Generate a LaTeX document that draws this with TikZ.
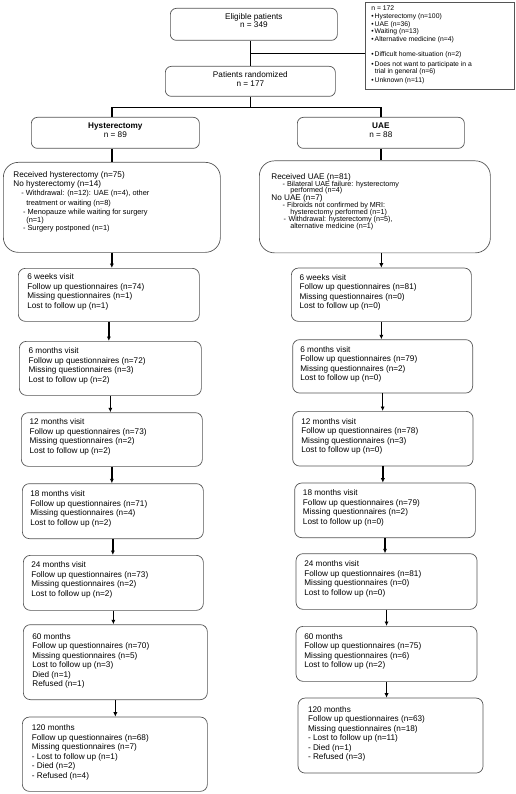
\documentclass[tikz,border=0pt]{standalone}
\usepackage{fontspec}
\setmainfont{Liberation Sans}
\usetikzlibrary{arrows.meta,calc}
\definecolor{boxgray}{RGB}{85,85,85}
% #1 style, #2 name, #3 L, #4 T, #5 R, #6 B, #7 padx, #8 top pad, #9 text
\newcommand{\mkbox}[9]{%
  \node[#1, inner xsep=#7pt, inner ysep=0pt, anchor=north west] (#2) at (#3,#4)
  {\begin{minipage}[c][\dimexpr #6pt-#4pt\relax][t]{\dimexpr #5pt-#3pt-#7pt-#7pt\relax}%
   \lineskiplimit=-100pt\raggedright\vspace*{#8pt}\leavevmode\rule{0pt}{7pt}#9\end{minipage}};}
\newcommand{\subf}{\fontsize{7.4}{9}\selectfont}
\newcommand{\subu}{\fontsize{7.2}{7}\selectfont}
\newcommand{\bul}{•\hspace{1pt}}
\begin{document}
\begin{tikzpicture}[x=1pt,y=-1pt,
  bx/.style={draw=boxgray, line width=0.7pt, rounded corners=6pt, font=\fontsize{8.2}{9.5}\selectfont},
  vis/.style={bx, rounded corners=7pt},
  big/.style={bx, rounded corners=15pt},
  sq/.style={bx, sharp corners},
  conn/.style={line width=1.3pt, black},
  arr/.style={conn, -{Latex[length=4.5pt,width=4.2pt]}}]
\useasboundingbox (0,0) rectangle (515,794);

% top
\mkbox{bx}{E}{170}{8}{337}{40}{0}{4.5}{\centering Eligible patients\\[-1.5pt]n = 349}
\mkbox{bx}{R}{165}{66}{335}{96}{0}{4.3}{\centering Patients randomized\\[-1.1pt]n = 177}
\mkbox{sq}{X}{364.5}{2.5}{514}{89.5}{6.5}{0.2}{\fontsize{6.8}{7.6}\selectfont n = 172\\[0.8pt]
\bul Hysterectomy (n=100)\\
\bul UAE (n=36)\\[-0.2pt]
\bul Waiting (n=13)\\
\bul Alternative medicine (n=4)\\[7.4pt]
\bul Difficult home-situation (n=2)\\[2.4pt]
\bul Does not want to participate in a\\[-0.2pt]
\hspace*{3.4pt}trial in general (n=6)\\[1.7pt]
\bul Unknown (n=11)}

\mkbox{bx}{H}{31}{117}{199}{148}{0}{4.5}{\centering\textbf{Hysterectomy}\\[-0.7pt]n = 89}
\mkbox{bx}{U}{297}{117}{464}{148}{0}{4.5}{\centering\textbf{UAE}\\[-0.7pt]n = 88}

\mkbox{big}{RH}{3}{162}{220}{252}{10}{8}{\fontsize{8.2}{9}\selectfont Received hysterectomy (n=75)\\[-0.3pt]
No hysterectomy (n=14)\\[0.3pt]
{\subf\hspace*{8pt}- Withdrawal: (n=12): UAE (n=4), other}\\[1pt]
{\subf\hspace*{13pt}treatment or waiting (n=8)}\\[0.4pt]
{\subf\hspace*{9.7pt}- Menopauze while waiting for surgery}\\[-1.7pt]
{\subf\hspace*{13pt}(n=1)}\\[-0.7pt]
{\subf\hspace*{9.7pt}- Surgery postponed (n=1)}}

\mkbox{big}{RU}{259}{160.5}{490}{252.5}{12}{11.2}{\fontsize{8.2}{7}\selectfont Received UAE (n=81)\\[0.2pt]
{\subu\hspace*{11.3pt}- Bilateral UAE failure: hysterectomy}\\[-1pt]
{\subu\hspace*{19pt}performed (n=4)}\\[0.8pt]
No UAE (n=7)\\[0.9pt]
{\subu\hspace*{11.3pt}- Fibroids not confirmed by MRI:}\\[-0.3pt]
{\subu\hspace*{19pt}hysterectomy performed (n=1)}\\[0.3pt]
{\subu\hspace*{12.3pt}-\hspace{2.5pt}Withdrawal: hysterectomy (n=5),}\\[-0.3pt]
{\subu\hspace*{19pt}alternative medicine (n=1)}}

% left column
\mkbox{vis}{L1}{18}{268}{199}{321}{9}{4.5}{6 weeks visit\\Follow up questionnaires (n=74)\\Missing questionnaires (n=1)\\Lost to follow up (n=1)}
\mkbox{vis}{L2}{19}{341}{201}{395}{9.3}{5.5}{6 months visit\\Follow up questionnaires (n=72)\\Missing questionnaires (n=3)\\Lost to follow up (n=2)}
\mkbox{vis}{L3}{21}{412.3}{202}{466}{8.3}{5.2}{12 months visit\\Follow up questionnaires (n=73)\\Missing questionnaires (n=2)\\Lost to follow up (n=2)}
\mkbox{vis}{L4}{22}{483.3}{203}{538.3}{8}{6}{18 months visit\\Follow up questionnaires (n=71)\\Missing questionnaires (n=4)\\Lost to follow up (n=2)}
\mkbox{vis}{L5}{23}{555}{203}{610}{8}{5.3}{24 months visit\\Follow up questionnaires (n=73)\\Missing questionnaires (n=2)\\Lost to follow up (n=2)}
\mkbox{vis}{L6}{23}{624.3}{207}{699.3}{9}{7.7}{60 months\\Follow up questionnaires (n=70)\\Missing questionnaires (n=5)\\Lost to follow up (n=3)\\Died (n=1)\\Refused (n=1)}
\mkbox{vis}{L7}{22}{716.7}{207}{791}{9.5}{6.6}{120 months\\Follow up questionnaires (n=68)\\Missing questionnaires (n=7)\\- Lost to follow up (n=1)\\- Died (n=2)\\- Refused (n=4)}

% right column
\mkbox{vis}{R1}{291}{267.7}{471}{321}{8.3}{5}{6 weeks visit\\Follow up questionnaires (n=81)\\Missing questionnaires (n=0)\\Lost to follow up (n=0)}
\mkbox{vis}{R2}{292.3}{339.3}{472.3}{392.7}{7.7}{5.7}{6 months visit\\Follow up questionnaires (n=79)\\Missing questionnaires (n=2)\\Lost to follow up (n=0)}
\mkbox{vis}{R3}{292.3}{411}{472.7}{465.7}{8.7}{5.7}{12 months visit\\Follow up questionnaires (n=78)\\Missing questionnaires (n=3)\\Lost to follow up (n=0)}
\mkbox{vis}{R4}{294.3}{482.7}{475}{537.3}{8.3}{5.6}{18 months visit\\Follow up questionnaires (n=79)\\Missing questionnaires (n=2)\\Lost to follow up (n=0)}
\mkbox{vis}{R5}{295.7}{553.3}{476.7}{609}{8.3}{6}{24 months visit\\Follow up questionnaires (n=81)\\Missing questionnaires (n=0)\\Lost to follow up (n=0)}
\mkbox{vis}{R6}{295.7}{626}{476.7}{681}{8.3}{6}{60 months\\Follow up questionnaires (n=75)\\Missing questionnaires (n=6)\\Lost to follow up (n=2)}
\mkbox{vis}{R7}{297.7}{697.7}{482.7}{772.7}{10}{7.3}{120 months\\Follow up questionnaires (n=63)\\Missing questionnaires (n=18)\\- Lost to follow up (n=11)\\- Died (n=1)\\- Refused (n=3)}

% connectors
\coordinate (j1) at ($(R.north)!0.5!(R.north |- E.south)$);
\draw[conn] (R.north |- E.south) -- (R.north);
\draw[conn] (j1) -- (j1 -| X.west);
\coordinate (sp) at ($(R.south)+(0,11)$);
\draw[conn] (R.south) -- (sp);
\draw[conn] (RH.north |- H.north) -- (RH.north |- sp) -- (U.north |- sp) -- (U.north);
\draw[conn] (RH.north |- H.south) -- (RH.north);
\draw[conn] (U.south) -- (U.south |- RU.north);
\draw[arr] (RH.south) -- (RH.south |- L1.north);
\draw[arr] (R1.north |- RU.south) -- (R1.north);
\foreach \a/\b in {L1/L2,L2/L3,L3/L4,L4/L5,L5/L6,L6/L7,R1/R2,R2/R3,R3/R4,R4/R5,R5/R6,R6/R7}
  \draw[arr] (\a.south) -- (\a.south |- \b.north);
\end{tikzpicture}
\end{document}
